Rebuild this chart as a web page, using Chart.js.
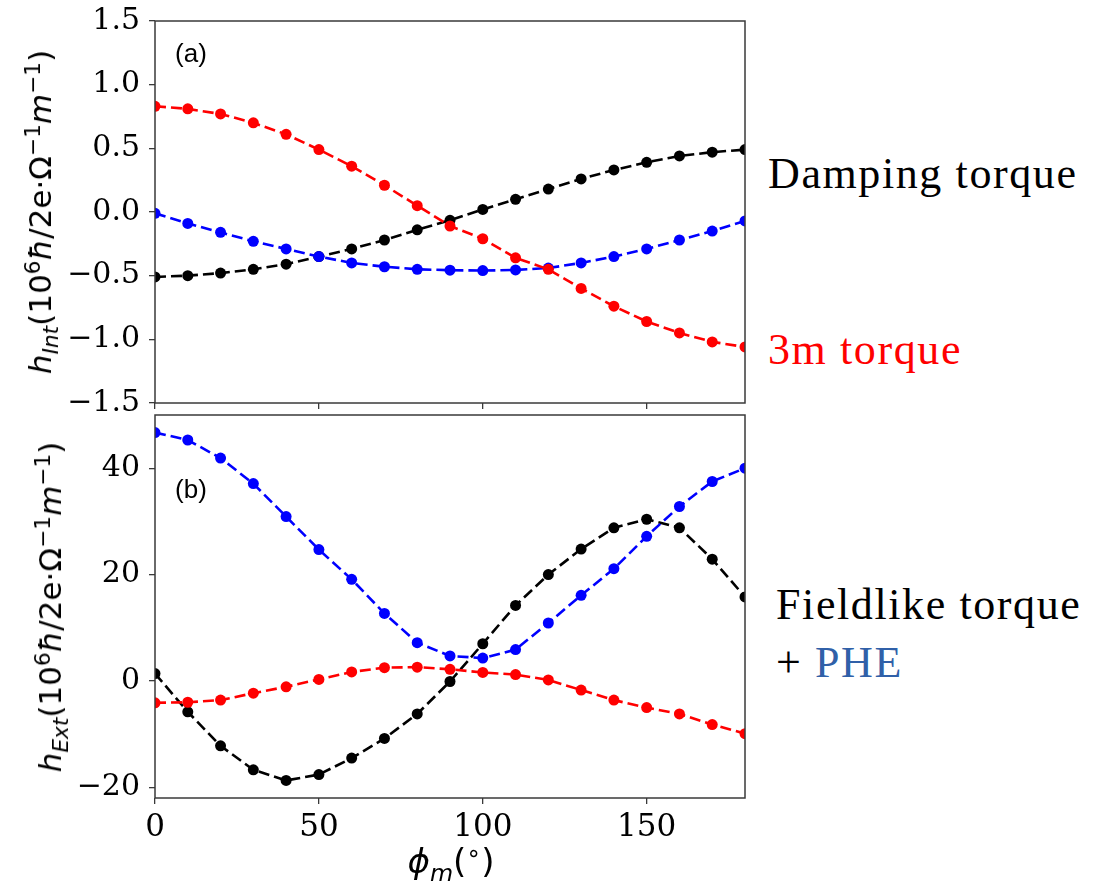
<!DOCTYPE html>
<html>
<head>
<meta charset="utf-8">
<script src="https://cdn.jsdelivr.net/npm/chart.js@4.4.1/dist/chart.umd.min.js"></script>
<style>
    body { margin: 0; background: #fff; width: 1105px; height: 883px; position: relative; overflow: hidden; }
    .panel { position: absolute; left: 0; width: 760px; }
    #topPanel { top: 0; height: 420px; }
    #bottomPanel { top: 405px; height: 478px; }
    .ytitle, .xtitle, .tag {
        position: absolute; white-space: nowrap; font-family: 'DejaVu Sans', sans-serif;
        transform: translate(-50%, -50%);
    }
    .ytitle { font-size: 31px; transform: translate(-50%, -50%) rotate(-90deg); }
    .xtitle { font-size: 34px; }
    .tag { font-family: 'Liberation Sans', Arial, sans-serif; font-size: 26px; }
    sub, sup { font-size: 70%; line-height: 0; }
    .note { position: absolute; white-space: nowrap; font-family: 'Liberation Serif', serif; font-size: 44px; letter-spacing: 1.6px; line-height: 44px; }
</style>
</head>
<body>
<div class="panel" id="topPanel"><canvas id="chartInt"></canvas></div>
<div class="panel" id="bottomPanel"><canvas id="chartExt"></canvas></div>

<div class="ytitle" style="left:40px; top:212px;"><i>h</i><sub><i>Int</i></sub>(10<sup>6</sup><i>ħ</i>/2e·Ω<sup>−1</sup><i>m</i><sup>−1</sup>)</div>
<div class="ytitle" style="left:50px; top:607px;"><i>h</i><sub><i>Ext</i></sub>(10<sup>6</sup><i>ħ</i>/2e·Ω<sup>−1</sup><i>m</i><sup>−1</sup>)</div>
<div class="xtitle" style="left:451px; top:861px;"><i>ϕ</i><sub><i>m</i></sub>(<sup>∘</sup>)</div>
<div class="tag" style="left:191px; top:53px;">(a)</div>
<div class="tag" style="left:191px; top:489px;">(b)</div>

<div class="note" style="left:768px; top:152px;">Damping torque</div>
<div class="note" style="left:768px; top:328px; color:#ff0000;">3m torque</div>
<div class="note" style="left:776px; top:583px;">Fieldlike torque</div>
<div class="note" style="left:776px; top:641px;">+ <span style="color:#3060a8;">PHE</span></div>

<script>
// magnetization angle phi_m in degrees
const angles = [0, 10, 20, 30, 40, 50, 60, 70, 80, 90, 100, 110, 120, 130, 140, 150, 160, 170, 180];

// (a) h_Int
const intRed = [0.83, 0.81, 0.77, 0.70, 0.61, 0.49, 0.36, 0.21, 0.05, -0.11, -0.21, -0.36, -0.45, -0.60, -0.74, -0.86, -0.95, -1.02, -1.06];
const intBlue = [-0.01, -0.09, -0.16, -0.23, -0.29, -0.35, -0.40, -0.43, -0.45, -0.457, -0.46, -0.455, -0.44, -0.40, -0.35, -0.29, -0.22, -0.15, -0.07];
const intBlack = [-0.51, -0.50, -0.48, -0.45, -0.41, -0.35, -0.29, -0.22, -0.14, -0.065, 0.02, 0.10, 0.18, 0.26, 0.33, 0.39, 0.44, 0.47, 0.49];

// (b) h_Ext
const extRed = [-4.1, -4.0, -3.6, -2.3, -1.1, 0.3, 1.7, 2.5, 2.6, 2.2, 1.6, 1.2, 0.2, -1.7, -3.6, -5.0, -6.2, -8.2, -9.9];
const extBlue = [46.7, 45.3, 41.9, 37.1, 30.9, 24.7, 19.1, 12.7, 7.2, 4.7, 4.3, 5.9, 10.9, 16.1, 21.1, 27.2, 32.8, 37.5, 40.0];
const extBlack = [1.4, -5.8, -12.2, -16.7, -18.7, -17.6, -14.5, -10.8, -6.2, -0.1, 7.0, 14.2, 20.0, 24.8, 28.8, 30.4, 28.8, 22.9, 15.8];

const xTicks = [0, 50, 100, 150];

const frameColor = '#3a3a3a';
const tickFont = { family: "'DejaVu Serif', serif", size: 30 };

/** full box around the plot area, like matplotlib spines */
const framePlugin = {
    id: 'frame',
    afterDraw(chart) {
        const { ctx, chartArea: a } = chart;
        ctx.save();
        ctx.strokeStyle = frameColor;
        ctx.lineWidth = 1.5;
        ctx.strokeRect(a.left, a.top, a.right - a.left, a.bottom - a.top);
        ctx.restore();
    }
};

const minusFormat = (digits) => (v) => (v < 0 ? '\u2212' : '') + Math.abs(v).toFixed(digits);

const makeSet = (values, color) => ({
    data: values.map((v, i) => ({ x: angles[i], y: v })),
    borderColor: color,
    backgroundColor: color,
    borderWidth: 2.6,
    borderDash: [11, 5],
    pointRadius: 5.5,
    pointHoverRadius: 5.5,
    pointBorderWidth: 0,
    tension: 0,
    clip: 0,
});

const makeChart = (id, sets, yOpts, xHeight, showXLabels, padTop) => {
    new Chart(document.getElementById(id), {
        type: 'line',
        data: { datasets: sets },
        plugins: [framePlugin],
        options: {
            responsive: true,
            maintainAspectRatio: false,
            animation: false,
            layout: { padding: { top: padTop, right: 15, left: 0, bottom: 0 } },
            plugins: { legend: { display: false }, tooltip: { enabled: false } },
            scales: {
                x: {
                    type: 'linear',
                    min: 0,
                    max: 180,
                    afterBuildTicks: (s) => { s.ticks = xTicks.map(v => ({ value: v })); },
                    afterFit: (s) => { s.height = xHeight; s.paddingLeft = 0; s.paddingRight = 0; },
                    border: { display: false },
                    grid: { drawOnChartArea: false, drawTicks: true, tickLength: 6, color: frameColor, lineWidth: 1.3 },
                    ticks: {
                        display: showXLabels,
                        color: '#000',
                        font: { family: "'DejaVu Serif', serif", size: 31 },
                        padding: 5,
                        maxRotation: 0,
                        autoSkip: false,
                    },
                },
                y: {
                    min: yOpts.min,
                    max: yOpts.max,
                    afterBuildTicks: (s) => { s.ticks = yOpts.ticks.map(v => ({ value: v })); },
                    afterFit: (s) => { s.width = 155; s.paddingTop = 0; s.paddingBottom = 0; },
                    border: { display: false },
                    grid: { drawOnChartArea: false, drawTicks: true, tickLength: 6, color: frameColor, lineWidth: 1.3 },
                    ticks: {
                        color: '#000',
                        font: tickFont,
                        padding: 9,
                        callback: yOpts.format,
                    },
                },
            },
        },
    });
};

makeChart('chartInt',
    [makeSet(intRed, '#ff0000'), makeSet(intBlue, '#0000ff'), makeSet(intBlack, '#000000')],
    { min: -1.5, max: 1.5, ticks: [-1.5, -1.0, -0.5, 0, 0.5, 1.0, 1.5], format: minusFormat(1) },
    17, false, 21);

makeChart('chartExt',
    [makeSet(extRed, '#ff0000'), makeSet(extBlue, '#0000ff'), makeSet(extBlack, '#000000')],
    { min: -22, max: 50, ticks: [-20, 0, 20, 40], format: minusFormat(0) },
    85, true, 10);
</script>
</body>
</html>
